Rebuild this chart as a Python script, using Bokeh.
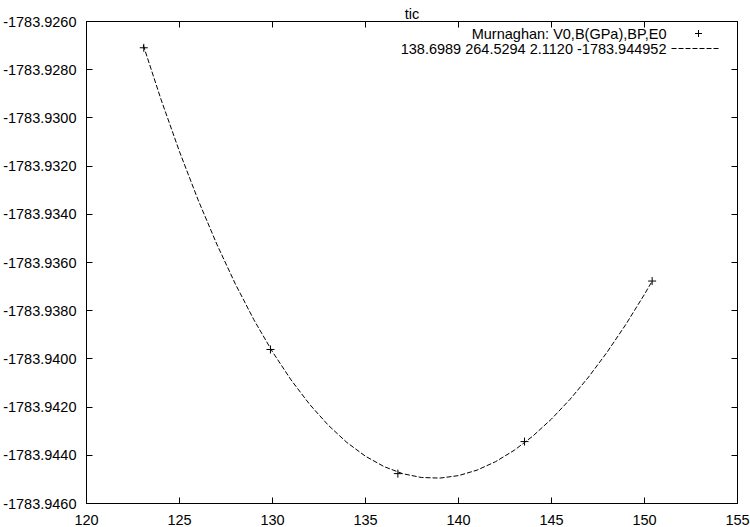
from bokeh.plotting import figure
from bokeh.models import (Range1d, FixedTicker, PrintfTickFormatter, LinearAxis,
                          Label, Arrow, ColumnDataSource, BoxAnnotation)
from bokeh.embed import file_html
from bokeh.resources import INLINE

# ---------------- data ----------------
title_text = "tic"
legend_points = "Murnaghan: V0,B(GPa),BP,E0"
legend_fit = "138.6989 264.5294 2.1120 -1783.944952"

vol = [123.08, 129.89, 136.74, 143.55, 150.41]
energy = [-1783.92709, -1783.93961, -1783.94476, -1783.94343, -1783.93677]

fit_vol = [123.05, 124, 125, 126, 127, 128, 129, 130, 131, 132, 133, 134, 135,
           136, 137, 138, 139, 140, 141, 142, 143, 144, 145, 146, 147, 148,
           149, 150, 150.41]
fit_energy = [-1783.926976, -1783.929219, -1783.931400, -1783.933403,
              -1783.935230, -1783.936887, -1783.938378, -1783.939706,
              -1783.940875, -1783.941890, -1783.942753, -1783.943469,
              -1783.944040, -1783.944470, -1783.944763, -1783.944920,
              -1783.944946, -1783.944843, -1783.944614, -1783.944262,
              -1783.943790, -1783.943200, -1783.942494, -1783.941675,
              -1783.940746, -1783.939709, -1783.938565, -1783.937318,
              -1783.936777]

x_ticks = [120, 125, 130, 135, 140, 145, 150, 155]
y_ticks = [-1783.946, -1783.944, -1783.942, -1783.940, -1783.938, -1783.936,
           -1783.934, -1783.932, -1783.930, -1783.928, -1783.926]

# ---------------- style ----------------
FONT = "Liberation Sans"
FS = "14.5px"
W, H = 750, 527
BL, BR, BT, BB = 86, 13, 21, 22

p = figure(width=W, height=H, output_backend="svg", toolbar_location=None,
           x_range=Range1d(x_ticks[0], x_ticks[-1]),
           y_range=Range1d(y_ticks[0], y_ticks[-1]),
           min_border_left=BL, min_border_right=BR, min_border_top=BT,
           min_border_bottom=BB, x_axis_location=None, y_axis_location=None)

p.title.text = title_text
p.title.align = "center"
p.title.text_font = FONT
p.title.text_font_size = FS
p.title.text_font_style = "normal"
p.title.text_color = "black"
p.title.standoff = 0
p.title.offset = 0

p.grid.visible = False
p.outline_line_color = "black"
p.outline_line_alpha = 1.0
p.outline_line_width = 1
p.background_fill_color = "white"
p.border_fill_color = "white"


def make_axis(ticks, show_labels, fmt=None, standoff=0):
    ax = LinearAxis(ticker=FixedTicker(ticks=ticks))
    if fmt is not None:
        ax.formatter = PrintfTickFormatter(format=fmt)
    ax.major_tick_in = 6
    ax.major_tick_out = 0
    ax.minor_tick_line_color = None
    ax.axis_line_color = "black"
    ax.major_tick_line_color = "black"
    ax.major_label_text_font = FONT
    ax.major_label_standoff = standoff
    if show_labels:
        ax.major_label_text_font_size = FS
        ax.major_label_text_color = "black"
    else:
        # mirror axis: ticks only, no labels drawn
        ax.major_label_text_font_size = "0px"
        ax.major_label_text_color = None
        ax.major_label_standoff = 0
    return ax


p.add_layout(make_axis(x_ticks, True, standoff=11), "below")
p.add_layout(make_axis(y_ticks, True, fmt="%.4f", standoff=10), "left")
p.add_layout(make_axis(x_ticks, False), "above")
p.add_layout(make_axis(y_ticks, False), "right")

fit_src = ColumnDataSource(dict(x=fit_vol, y=fit_energy))
pt_src = ColumnDataSource(dict(x=vol, y=energy))

p.line("x", "y", source=fit_src, line_color="black", line_width=1,
       line_dash="5 2")
p.scatter("x", "y", source=pt_src, marker="cross", size=8,
          line_color="black", line_width=1)

# ---------------- key (gnuplot style: text, then sample) ----------------
FW, FH = W - BL - BR, H - BT - BB     # frame size in px
tx = FW - 71
y1 = FH - 14
y2 = FH - 29
for txt, yy in ((legend_points, y1), (legend_fit, y2)):
    p.add_layout(Label(x=tx, y=yy, x_units="screen", y_units="screen",
                       text=txt, text_align="right", text_baseline="middle",
                       text_font=FONT, text_font_size=FS, text_color="black"))

cx = FW - 39
for (xs, ys, xe, ye) in ((cx - 3.5, y1, cx + 3.5, y1), (cx, y1 - 3.5, cx, y1 + 3.5)):
    p.add_layout(Arrow(x_start=xs, y_start=ys, x_end=xe, y_end=ye,
                       start_units="screen", end_units="screen",
                       start=None, end=None, line_color="black", line_width=1))
p.add_layout(Arrow(x_start=FW - 66, y_start=y2, x_end=FW - 19, y_end=y2,
                   start_units="screen", end_units="screen",
                   start=None, end=None, line_color="black", line_width=1,
                   line_dash="5 2"))

# thin frame round the whole picture, as in the reference screenshot
p.add_layout(BoxAnnotation(left=0.5, right=W - 1.5, top=0.5, bottom=H - 1.5,
                           left_units="canvas", right_units="canvas",
                           top_units="canvas", bottom_units="canvas",
                           fill_color=None, line_color="black", line_width=1,
                           line_alpha=1.0))

open("out.html", "w").write(file_html(p, INLINE))
